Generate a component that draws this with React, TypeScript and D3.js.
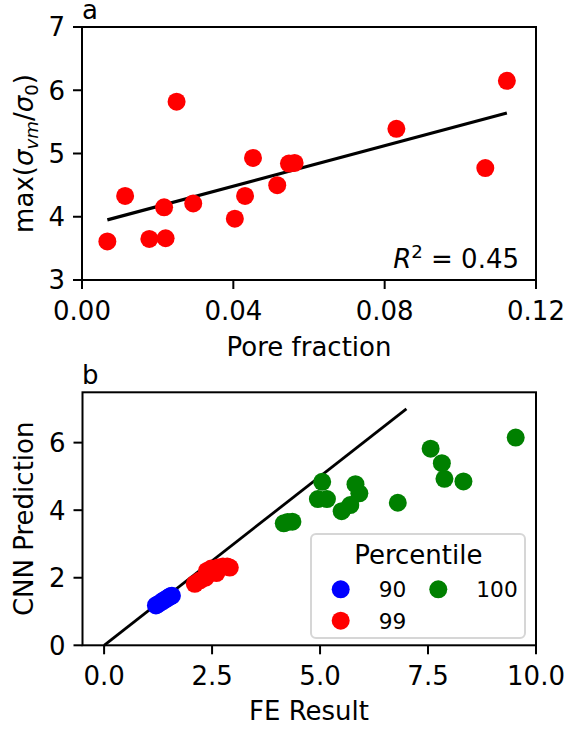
import React from "react";
import * as d3 from "d3";

// ---- Panel a data ----
const poreFraction = [0.0067, 0.0114, 0.0178, 0.0221, 0.0217, 0.025, 0.0294, 0.0404, 0.0431, 0.0452, 0.0516, 0.0547, 0.0562, 0.0831, 0.1066, 0.1123];
const maxStress = [3.61, 4.33, 3.65, 3.66, 4.15, 5.82, 4.21, 3.97, 4.33, 4.93, 4.5, 4.84, 4.85, 5.39, 4.77, 6.15];
const fitX = [0.0067, 0.1123];
const fitY = [3.95, 5.64];
const topXTicks = [0, 0.04, 0.08, 0.12];
const topYTicks = [3, 4, 5, 6, 7];

// ---- Panel b data ----
const feBlue = [1.2, 1.24, 1.3, 1.36, 1.41, 1.46, 1.51, 1.55, 1.57];
const cnnBlue = [1.18, 1.21, 1.26, 1.31, 1.35, 1.39, 1.43, 1.46, 1.47];
const feRed = [2.1, 2.22, 2.35, 2.38, 2.48, 2.6, 2.64, 2.75, 2.85, 2.91];
const cnnRed = [1.82, 1.92, 2.0, 2.2, 2.27, 2.14, 2.3, 2.33, 2.33, 2.3];
const feGreen = [9.53, 7.56, 7.82, 7.88, 8.32, 5.05, 5.82, 5.91, 4.95, 5.16, 6.8, 5.7, 5.5, 4.16, 4.36, 4.25];
const cnnGreen = [6.15, 5.82, 5.39, 4.93, 4.85, 4.84, 4.77, 4.5, 4.33, 4.33, 4.22, 4.15, 3.97, 3.61, 3.66, 3.65];
const diagX = [0, 7];
const diagY = [0, 7];
const botXTicks = [0, 2.5, 5, 7.5, 10];
const botYTicks = [0, 2, 4, 6];
const legendLabels = ["90", "99", "100"];
const legendColors = ["#0000ff", "#ff0000", "#008000"];

const FONT = "DejaVu Sans";
const FS = 26;

export default function App() {
  const xA = d3.scaleLinear([0, 0.12], [82, 536]);
  const yA = d3.scaleLinear([3, 7], [280, 27]);
  const xB = d3.scaleLinear([-0.5, 10], [82.5, 536]);
  const yB = d3.scaleLinear([0, 7.49], [645.3, 392.3]);
  const line = d3.line<[number, number]>();
  const r = 9;

  const frame = (x: any, y: any) => {
    const [x0, x1] = x.range();
    const [y0, y1] = y.range();
    return (
      <rect x={x0} y={y1} width={x1 - x0} height={y0 - y1} fill="none" stroke="#000" strokeWidth={2} />
    );
  };

  const xAxis = (x: any, y: any, ticks: number[], fmt: (v: number) => string) => {
    const yb = y.range()[0];
    return ticks.map((t) => (
      <g key={"x" + t}>
        <line x1={x(t)} x2={x(t)} y1={yb} y2={yb + 9} stroke="#000" strokeWidth={2} />
        <text x={x(t)} y={yb + 39.5} textAnchor="middle" fontSize={FS} fontFamily={FONT}>
          {fmt(t)}
        </text>
      </g>
    ));
  };
  const yAxis = (x: any, y: any, ticks: number[]) => {
    const xl = x.range()[0];
    return ticks.map((t) => (
      <g key={"y" + t}>
        <line x1={xl - 9} x2={xl} y1={y(t)} y2={y(t)} stroke="#000" strokeWidth={2} />
        <text x={xl - 17} y={y(t)} dy="0.36em" textAnchor="end" fontSize={FS} fontFamily={FONT}>
          {t}
        </text>
      </g>
    ));
  };

  const greenPts = feGreen.map((v, i) => [v, cnnGreen[i]]);
  const redPts = feRed.map((v, i) => [v, cnnRed[i]]);
  const bluePts = feBlue.map((v, i) => [v, cnnBlue[i]]);

  const legX = 311, legY = 534;
  const legendPos = [
    [340.7, 589.3],
    [340.7, 620.7],
    [438.3, 589.3],
  ];

  return (
    <svg width={567} height={729} style={{ position: "absolute", left: 0, top: 0, background: "#fff" }} fontFamily={FONT}>
      {/* Panel a */}
      <text x={82} y={19} fontSize={FS}>a</text>
      <path
        d={line(fitX.map((v, i) => [xA(v), yA(fitY[i])]) as any) || ""}
        stroke="#000"
        strokeWidth={3.2}
        fill="none"
      />
      {poreFraction.map((v, i) => (
        <circle key={"a" + i} cx={xA(v)} cy={yA(maxStress[i])} r={r} fill="#ff0000" />
      ))}
      {frame(xA, yA)}
      {xAxis(xA, yA, topXTicks, (v) => v.toFixed(2))}
      {yAxis(xA, yA, topYTicks)}
      <text x={309} y={355.5} textAnchor="middle" fontSize={FS}>Pore fraction</text>
      <text transform={`translate(33,${(27 + 280) / 2}) rotate(-90)`} textAnchor="middle" fontSize={FS}>
        <tspan>max(</tspan>
        <tspan fontStyle="italic">σ</tspan>
        <tspan fontStyle="italic" fontSize={18.2} dy={5}>vm</tspan>
        <tspan dy={-5}>/</tspan>
        <tspan fontStyle="italic">σ</tspan>
        <tspan fontSize={18.2} dy={5}>0</tspan>
        <tspan dy={-5}>)</tspan>
      </text>
      <text x={519} y={268.3} textAnchor="end" fontSize={FS}>
        <tspan fontStyle="italic">R</tspan>
        <tspan fontSize={18.2} dy={-10}>2</tspan>
        <tspan dy={10}> = 0.45</tspan>
      </text>

      {/* Panel b */}
      <text x={82} y={384} fontSize={FS}>b</text>
      <path
        d={line(diagX.map((v, i) => [xB(v), yB(diagY[i])]) as any) || ""}
        stroke="#000"
        strokeWidth={2.8}
        fill="none"
      />
      {bluePts.map((p, i) => (
        <circle key={"b" + i} cx={xB(p[0])} cy={yB(p[1])} r={r} fill="#0000ff" />
      ))}
      {redPts.map((p, i) => (
        <circle key={"r" + i} cx={xB(p[0])} cy={yB(p[1])} r={r} fill="#ff0000" />
      ))}
      {greenPts.map((p, i) => (
        <circle key={"g" + i} cx={xB(p[0])} cy={yB(p[1])} r={r} fill="#008000" />
      ))}
      {frame(xB, yB)}
      {xAxis(xB, yB, botXTicks, (v) => v.toFixed(1))}
      {yAxis(xB, yB, botYTicks)}
      <text x={309} y={720} textAnchor="middle" fontSize={FS}>FE Result</text>
      <text transform={`translate(33,${(392.3 + 645.3) / 2}) rotate(-90)`} textAnchor="middle" fontSize={FS}>
        CNN Prediction
      </text>

      {/* Legend */}
      <rect x={legX} y={legY} width={214} height={104} rx={5} fill="#fff" fillOpacity={0.8} stroke="#d6d6d6" strokeWidth={2} />
      <text x={418.3} y={564} textAnchor="middle" fontSize={FS}>Percentile</text>
      {legendLabels.map((lab, i) => (
        <g key={"l" + i}>
          <circle cx={legendPos[i][0]} cy={legendPos[i][1]} r={r} fill={legendColors[i]} />
          <text x={legendPos[i][0] + 38} y={legendPos[i][1]} dy="0.36em" fontSize={21.7}>
            {lab}
          </text>
        </g>
      ))}
    </svg>
  );
}
